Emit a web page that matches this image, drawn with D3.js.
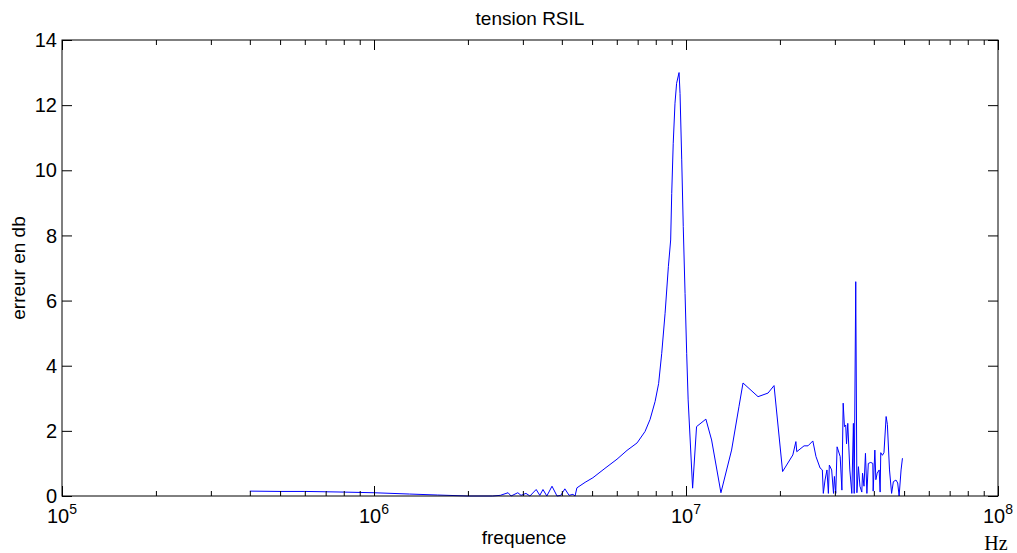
<!DOCTYPE html>
<html>
<head>
<meta charset="utf-8">
<script src="https://cdn.jsdelivr.net/npm/d3@7"></script>
<style>
  body { margin: 0; background: #fff; }
</style>
</head>
<body>
<svg id="grafica"></svg>
<script>
const svg_w = 1017; // ancho
const svg_h = 553;  // alto
const margin = {l:62, r:19, t:40, b:57};
const viz_w = svg_w - margin.l - margin.r;
const viz_h = svg_h - margin.t - margin.b;
const sans = "Arial, 'Liberation Sans', sans-serif";

// frecuencias (Hz)
const freq = [
  4.0e5, 5.0e5, 6.0e5, 7.0e5, 8.0e5, 1.0e6, 1.3e6, 1.6e6, 2.0e6, 2.40e6,
  2.54e6, 2.69e6, 2.75e6, 2.89e6, 2.96e6, 3.07e6, 3.16e6, 3.31e6, 3.40e6, 3.48e6,
  3.58e6, 3.72e6, 3.86e6, 3.97e6, 4.09e6, 4.22e6, 4.34e6, 4.41e6, 4.47e6, 4.75e6,
  5.03e6, 5.50e6, 6.01e6, 6.47e6, 6.97e6, 7.39e6, 7.67e6, 7.96e6, 8.17e6, 8.36e6,
  8.57e6, 8.78e6, 8.93e6, 9.00e6, 9.10e6, 9.22e6, 9.33e6, 9.50e6, 9.57e6, 9.69e6,
  9.80e6, 9.93e6, 1.005e7, 1.016e7, 1.05e7, 1.081e7, 1.158e7, 1.208e7, 1.294e7, 1.40e7,
  1.478e7, 1.523e7, 1.702e7, 1.832e7, 1.915e7, 2.04e7, 2.20e7, 2.25e7, 2.265e7, 2.39e7,
  2.46e7, 2.55e7, 2.61e7, 2.69e7, 2.735e7, 2.755e7, 2.79e7, 2.83e7, 2.86e7, 2.88e7,
  2.93e7, 2.97e7, 2.99e7, 3.02e7, 3.05e7, 3.12e7, 3.16e7, 3.19e7, 3.22e7, 3.25e7,
  3.27e7, 3.30e7, 3.35e7, 3.40e7, 3.44e7, 3.46e7, 3.50e7, 3.53e7, 3.57e7, 3.61e7,
  3.66e7, 3.68e7, 3.72e7, 3.76e7, 3.80e7, 3.84e7, 3.91e7, 3.97e7, 3.98e7, 4.03e7,
  4.06e7, 4.10e7, 4.16e7, 4.19e7, 4.21e7, 4.26e7, 4.31e7, 4.38e7, 4.42e7, 4.49e7,
  4.56e7, 4.62e7, 4.71e7, 4.77e7, 4.82e7, 4.89e7, 4.94e7
];

// erreur en dB
const err = [
  0.15, 0.14, 0.14, 0.13, 0.12, 0.10, 0.06, 0.03, 0.00, 0.00,
  0.02, 0.10, 0.00, 0.10, 0.02, 0.08, 0.00, 0.20, 0.02, 0.20,
  0.00, 0.30, 0.00, 0.02, 0.22, 0.02, 0.05, 0.00, 0.25, 0.42,
  0.56, 0.85, 1.13, 1.40, 1.63, 1.98, 2.35, 2.90, 3.45, 4.38,
  5.61, 7.04, 7.86, 9.29, 10.83, 12.06, 12.67, 13.00, 12.36, 10.32,
  8.27, 6.22, 4.38, 2.95, 0.24, 2.13, 2.36, 1.72, 0.10, 1.41,
  2.74, 3.47, 3.05, 3.16, 3.39, 0.75, 1.26, 1.67, 1.36, 1.54,
  1.54, 1.69, 1.21, 0.86, 0.80, 0.08, 0.49, 0.80, 0.08, 0.95,
  0.80, 0.08, 0.60, 0.08, 1.51, 1.21, 0.18, 2.85, 2.13, 2.18,
  1.60, 2.23, 0.80, 0.08, 2.23, 0.08, 6.58, 0.10, 0.90, 0.30,
  0.12, 0.70, 0.30, 1.31, 0.08, 1.00, 1.03, 1.00, 0.15, 1.41,
  0.50, 0.70, 0.80, 0.12, 1.33, 1.25, 1.33, 2.44, 2.20, 0.80,
  0.08, 0.44, 0.49, 0.40, 0.00, 0.80, 1.16
];

const x_ticks = [1e5, 1e6, 1e7, 1e8];
const x_minor = [2,3,4,5,6,7,8,9].flatMap(m => [1e5, 1e6, 1e7].map(d => m*d));
const y_ticks = [0, 2, 4, 6, 8, 10, 12, 14];

let svg = d3.select("#grafica")
  .attr("width", svg_w)
  .attr("height", svg_h)

svg.append("rect")
  .attr("width", svg_w)
  .attr("height", svg_h)
  .attr("fill", "white")

let x_scale = d3.scaleLog()
  .domain([1e5, 1e8])
  .range([0, viz_w])

let y_scale = d3.scaleLinear()
  .domain([0, 14])
  .range([viz_h, 0])

let g = svg.append("g")
  .attr("transform", `translate(${margin.l},${margin.t})`)

// la curva
let data = freq.map((f, i) => ({f: f, e: err[i]}));
g.append("path")
  .datum(data)
  .attr("fill", "none")
  .attr("stroke", "#0000ff")
  .attr("stroke-width", 1)
  .attr("d", d3.line().x(d => x_scale(d.f)).y(d => y_scale(d.e)))

// ejes: ticks hacia adentro en los cuatro lados
function style_axis(sel) {
  sel.select(".domain").remove();
  sel.selectAll("line").attr("stroke", "black");
}

g.append("g")
  .attr("transform", `translate(0,${viz_h})`)
  .call(d3.axisBottom(x_scale).tickValues(x_ticks).tickSizeInner(-10).tickSizeOuter(0).tickFormat(""))
  .call(style_axis)
g.append("g")
  .attr("transform", `translate(0,${viz_h})`)
  .call(d3.axisBottom(x_scale).tickValues(x_minor).tickSizeInner(-5).tickSizeOuter(0).tickFormat(""))
  .call(style_axis)
g.append("g")
  .call(d3.axisTop(x_scale).tickValues(x_ticks).tickSizeInner(-10).tickSizeOuter(0).tickFormat(""))
  .call(style_axis)
g.append("g")
  .call(d3.axisTop(x_scale).tickValues(x_minor).tickSizeInner(-5).tickSizeOuter(0).tickFormat(""))
  .call(style_axis)
g.append("g")
  .call(d3.axisLeft(y_scale).tickValues(y_ticks).tickSizeInner(-10).tickSizeOuter(0).tickFormat(""))
  .call(style_axis)
g.append("g")
  .attr("transform", `translate(${viz_w},0)`)
  .call(d3.axisRight(y_scale).tickValues(y_ticks).tickSizeInner(-10).tickSizeOuter(0).tickFormat(""))
  .call(style_axis)

// el marco
g.append("rect")
  .attr("width", viz_w)
  .attr("height", viz_h)
  .attr("fill", "none")
  .attr("stroke", "black")
  .attr("stroke-width", 1)

// etiquetas y
g.selectAll(".ylab")
  .data(y_ticks)
  .enter()
  .append("text")
  .attr("x", -5)
  .attr("y", d => y_scale(d))
  .attr("dy", "0.36em")
  .attr("text-anchor", "end")
  .attr("font-family", sans)
  .attr("font-size", 20)
  .text(d => d)

// etiquetas x: 10^n
let xl = g.selectAll(".xlab")
  .data(x_ticks)
  .enter()
  .append("text")
  .attr("x", d => x_scale(d))
  .attr("y", viz_h + 27)
  .attr("text-anchor", "middle")
  .attr("font-family", sans)
  .attr("font-size", 20)
xl.append("tspan").text("10")
xl.append("tspan")
  .attr("dy", -9)
  .attr("font-size", 14)
  .text(d => Math.round(Math.log10(d)))

// títulos
svg.append("text")
  .attr("x", margin.l + viz_w/2)
  .attr("y", 25)
  .attr("text-anchor", "middle")
  .attr("font-family", sans)
  .attr("font-size", 19)
  .text("tension RSIL")

svg.append("text")
  .attr("x", margin.l + viz_w/2 - 6)
  .attr("y", 544)
  .attr("text-anchor", "middle")
  .attr("font-family", sans)
  .attr("font-size", 19)
  .text("frequence")

svg.append("text")
  .attr("transform", `translate(25,${margin.t + viz_h/2}) rotate(-90)`)
  .attr("text-anchor", "middle")
  .attr("font-family", sans)
  .attr("font-size", 19)
  .text("erreur en db")

svg.append("text")
  .attr("x", 996)
  .attr("y", 550)
  .attr("text-anchor", "middle")
  .attr("font-family", "'Liberation Serif', 'Times New Roman', serif")
  .attr("font-size", 20)
  .text("Hz")
</script>
</body>
</html>
